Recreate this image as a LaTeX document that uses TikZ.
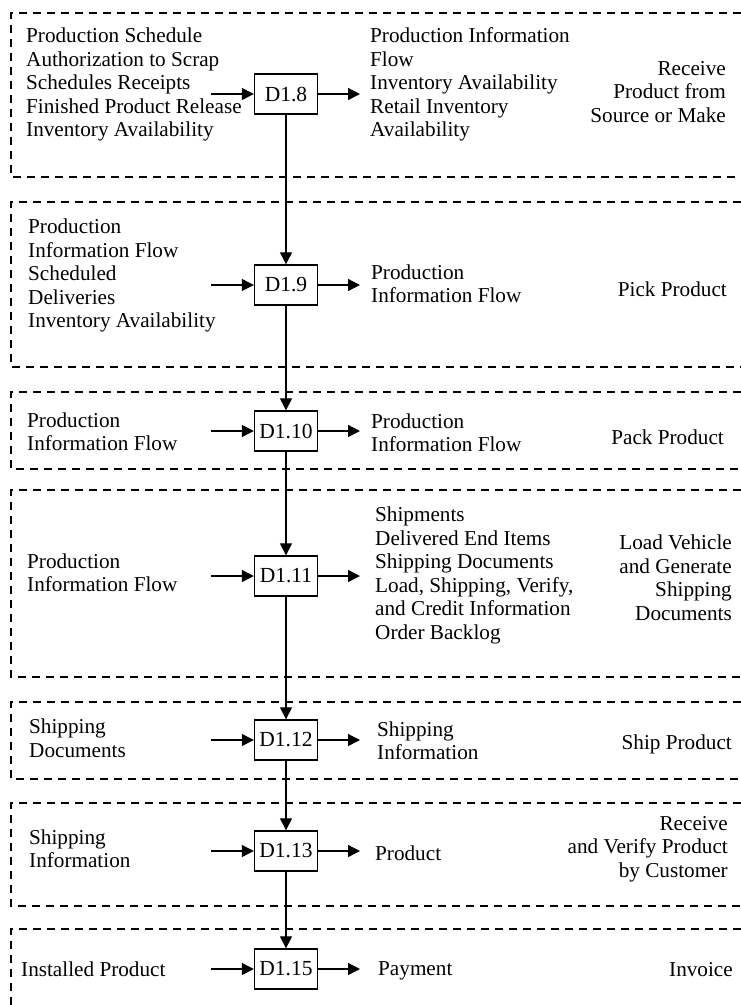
\documentclass[tikz,border=0pt]{standalone}
\usepackage{fontspec}
\setmainfont{Liberation Serif}
\usetikzlibrary{arrows.meta}
\begin{document}
\begin{tikzpicture}[x=1pt,y=-1pt,
  lbl/.style={inner sep=0pt, align=left, anchor=west, font=\fontsize{21.2}{23.5}\selectfont},
  rlbl/.style={inner sep=0pt, align=right, anchor=east, font=\fontsize{21.2}{23.5}\selectfont},
  dbox/.style={draw, line width=1.4pt, minimum width=63pt, minimum height=40pt, inner sep=0pt, font=\fontsize{21.5}{24}\selectfont},
  flow/.style={line width=1.3pt, -{Triangle[length=12pt,width=12pt]}},
  sect/.style={line width=1.2pt, dash pattern=on 8pt off 6pt}]
\useasboundingbox (0,0) rectangle (741,1005);

% dashed section frames (open on the right)
\draw[sect] (741,13) -- (11,13) -- (11,177) -- (741,177);
\draw[sect] (741,202) -- (11,202) -- (11,367) -- (741,367);
\draw[sect] (741,392) -- (11,392) -- (11,469) -- (741,469);
\draw[sect] (741,490) -- (11,490) -- (11,677) -- (741,677);
\draw[sect] (741,702) -- (11,702) -- (11,779) -- (741,779);
\draw[sect] (741,803) -- (11,803) -- (11,906) -- (741,906);
\draw[sect] (741,929) -- (11,929) -- (11,1010);

% process boxes
\node[dbox] (d8)  at (286,94)  {D1.8};
\node[dbox] (d9)  at (286,285) {D1.9};
\node[dbox] (d10) at (286,431) {D1.10};
\node[dbox] (d11) at (286,576) {D1.11};
\node[dbox] (d12) at (286,740) {D1.12};
\node[dbox] (d13) at (286,851) {D1.13};
\node[dbox] (d15) at (286,969) {D1.15};

% section 1
\node[lbl] (in8) at (26,84.5) {Production Schedule\\Authorization to Scrap\\Schedules Receipts\\Finished Product Release\\Inventory Availability};
\node[lbl] (out8) at (370,84.5) {Production Information\\Flow\\Inventory Availability\\Retail Inventory\\Availability};
\node[rlbl] (t8) at (726,92) {Receive\\Product from\\Source or Make};
% section 2
\node[lbl] (in9) at (28,275.5) {Production\\Information Flow\\Scheduled\\Deliveries\\Inventory Availability};
\node[lbl] (out9) at (371,283.5) {Production\\Information Flow};
\node[rlbl] (t9) at (727,289) {Pick Product};
% section 3
\node[lbl] (in10) at (27,431.5) {Production\\Information Flow};
\node[lbl] (out10) at (371,432.5) {Production\\Information Flow};
\node[rlbl] (t10) at (724,437) {Pack Product};
% section 4
\node[lbl] (in11) at (27,572.5) {Production\\Information Flow};
\node[lbl] (out11) at (375,575.5) {Shipments\\Delivered End Items\\Shipping Documents\\Load, Shipping, Verify,\\and Credit Information\\Order Backlog};
\node[rlbl] (t11) at (732,577.5) {Load Vehicle\\and Generate\\Shipping\\Documents};
% section 5
\node[lbl] (in12) at (29,738) {Shipping\\Documents};
\node[lbl] (out12) at (377,740.5) {Shipping\\Information};
\node[rlbl] (t12) at (732,744) {Ship Product};
% section 6
\node[lbl] (in13) at (29,848.5) {Shipping\\Information};
\node[lbl] (out13) at (375,853.5) {Product};
\node[rlbl] (t13) at (728,849) {Receive\\and Verify Product\\by Customer};
% section 7
\node[lbl] (in15) at (21,969.5) {Installed Product};
\node[lbl] (out15) at (378,971) {Payment};
\node[rlbl] (t15) at (733,969.5) {Invoice};

% input / output arrow ends
\foreach \n in {8,9,10,11,12,13,15}{
  \coordinate (a\n) at (211,0 |- d\n);
  \coordinate (b\n) at (360,0 |- d\n);
  \draw[flow] (a\n) -- (d\n.west);
  \draw[flow] (d\n.east) -- (b\n);
}

% main chain
\draw[flow] (d8.south) -- (d9.north);
\draw[flow] (d9.south) -- (d10.north);
\draw[flow] (d10.south) -- (d11.north);
\draw[flow] (d11.south) -- (d12.north);
\draw[flow] (d12.south) -- (d13.north);
\draw[flow] (d13.south) -- (d15.north);
\end{tikzpicture}
\end{document}
